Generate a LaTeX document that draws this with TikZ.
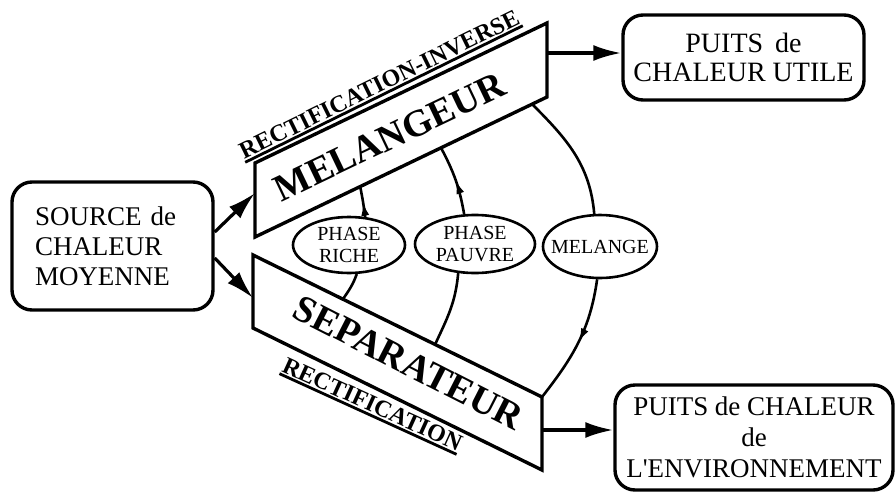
\documentclass[tikz,border=0pt]{standalone}
\usepackage{fontspec}
\setmainfont{Liberation Serif}
\usetikzlibrary{arrows.meta,decorations.markings,calc,shapes.geometric}
\newcommand\myfs[2]{\fontsize{#1}{#2}\selectfont}
\begin{document}
\begin{tikzpicture}[x=1pt,y=1pt,
 rbox/.style={draw, line width=3.4pt, rounded corners=20pt, align=center, inner sep=0pt},
 plate/.style={draw, line width=3.4pt, line join=miter},
 flow/.style={line width=3.2pt, -{Latex[length=28pt,width=16pt]}},
 oval/.style={draw, ellipse, line width=2.6pt, fill=white, inner xsep=-10pt, inner ysep=-2pt, align=center, font=\myfs{20}{22}},
 link/.style={line width=2.6pt},
 tip/.style={postaction={decorate}, decoration={markings, mark=at position 0.5 with {\arrow{Latex[length=14pt,width=8pt]}}}},
 biglbl/.style={font=\bfseries\myfs{38}{38}, inner sep=0pt, anchor=base},
 sublbl/.style={font=\bfseries\myfs{24}{24}, inner xsep=0pt, inner ysep=2.5pt, anchor=south},
 uline/.style={line width=2.8pt},
]
\useasboundingbox (0,0) rectangle (896,-493);

% MELANGEUR plate
\coordinate (A1) at (255,-163); \coordinate (B1) at (547,-23);
\coordinate (C1) at (547,-97);  \coordinate (D1) at (255,-237);
\draw[plate] (A1) -- (B1) -- (C1) -- (D1) -- cycle;
% SEPARATEUR plate
\coordinate (A2) at (253,-255); \coordinate (B2) at (542,-397);
\coordinate (C2) at (542,-470); \coordinate (D2) at (253,-328);
\draw[plate] (A2) -- (B2) -- (C2) -- (D2) -- cycle;

\node[biglbl, rotate=25.5] (mel) at (395,-148) {MELANGEUR};
\node[biglbl, rotate=-27] (sep) at (403,-374) {SEPARATEUR};

\node[sublbl, rotate=26.2] (rinv) at (384,-94) {RECTIFICATION-INVERSE};
\draw[uline] (rinv.south west) -- (rinv.south east);
\node[sublbl, rotate=-24.5] (rect) at (368,-414) {RECTIFICATION};
\draw[uline] (rect.south west) -- (rect.south east);

% boxes
\node[rbox, minimum width=201pt, minimum height=128pt, text width=155pt, inner xsep=23pt, align=left, font=\myfs{27}{30}] (src) at (112.5,-246) {SOURCE de\\CHALEUR\\MOYENNE};
\node[rbox, minimum width=241pt, minimum height=85pt, font=\myfs{28}{29}] (utile) at (743.5,-57.5) {PUITS\hspace{5pt} de\\CHALEUR UTILE};
\node[rbox, minimum width=278pt, minimum height=105pt, font=\myfs{27}{31}] (env) at (754,-437.5) {PUITS de CHALEUR\\de\\L\textquotesingle ENVIRONNEMENT};

% ellipses
\node[oval, minimum width=112pt, minimum height=56pt] (e1) at (349,-245) {PHASE\\RICHE};
\node[oval, minimum width=120pt, minimum height=58pt] (e2) at (475,-244) {PHASE\\PAUVRE};
\node[oval, minimum width=114pt, minimum height=63pt] (e3) at (600,-246.5) {MELANGE};

% main arrows
\coordinate (ml) at (255,-193);
\coordinate (sl) at (253,-298);
\draw[flow] ([yshift=14pt]src.east) -- (ml);
\draw[flow] ([yshift=-12pt]src.east) -- (sl);
\coordinate (mr) at (547,-53);
\draw[flow] (mr) -- (mr -| utile.west);
\coordinate (sr) at (542,-430);
\draw[flow] (sr) -- (sr -| env.west);

% arcs
\coordinate (m1) at ($(D1)!0.36!(C1)$);
\coordinate (m2) at ($(D1)!0.637!(C1)$);
\coordinate (m3) at ($(D1)!0.949!(C1)$);
\coordinate (s1) at ($(A2)!0.311!(B2)$);
\coordinate (s2) at ($(A2)!0.63!(B2)$);
\draw[link] (s1) to[out=55,in=-110] (e1.-75);
\draw[link,tip] (e1.60) to[out=98,in=-78] (m1);
\draw[link] (s2) to[out=65,in=-95] (e2.-120);
\draw[link,tip] (e2.110) to[out=100,in=-62] (m2);
\draw[link] (m3) to[out=-45,in=95] (e3.100);
\draw[link,tip] (e3.-95) to[out=-98,in=52] (B2);
\end{tikzpicture}
\end{document}
